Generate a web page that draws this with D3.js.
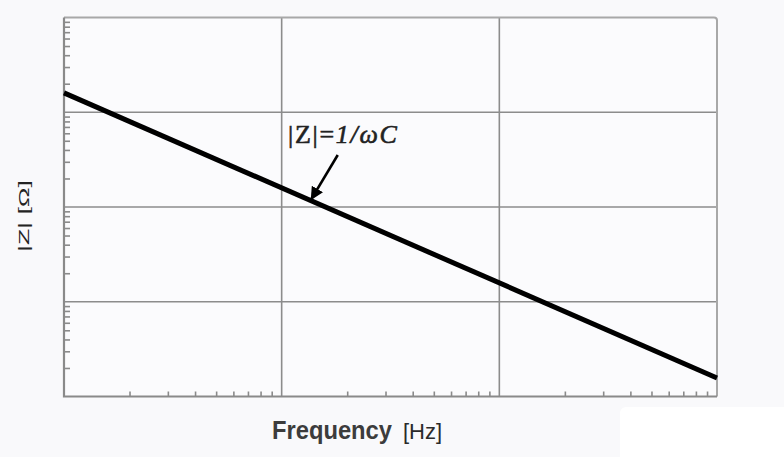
<!DOCTYPE html>
<html>
<head>
<meta charset="UTF-8">
<title>|Z| vs Frequency</title>
<script src="https://d3js.org/d3.v7.min.js"></script>
<style>
  html, body { margin: 0; padding: 0; background: #f9f9fb; }
  svg { display: block; }
</style>
</head>
<body>
<svg width="784" height="457"></svg>
<script>
// data (log-log, slope -1)
var freq = [10, 10000];
var impedance = [160, 0.157];
var xDecades = [10, 100, 1000, 10000];
var yDecades = [0.1, 1, 10, 100, 1000];
var annoUpright = "|Z|=";
var annoItalic = "1/ωC";
var annoLabelAt = [107, 47];     // [freq, |Z|] of label start
var annoTail = [181, 35.4];
var annoTip = [136, 11.8];

var svg = d3.select("svg");
// plot box ("top" is a window property, so use p*)
var pL = 64, pR = 717, pT = 17.5, pB = 396.5;

var x = d3.scaleLog().domain([xDecades[0], xDecades[xDecades.length - 1]]).range([pL, pR]);
var y = d3.scaleLog().domain([yDecades[0], yDecades[yDecades.length - 1]]).range([pB, pT]);

// minor ticks 2..9 in every decade
function minors(decs) {
  var out = [];
  for (var i = 0; i < decs.length - 1; i++)
    for (var k = 2; k <= 9; k++) out.push(decs[i] * k);
  return out;
}

// white patch bottom right
svg.append("rect").attr("x", 620).attr("y", 407).attr("width", 170).attr("height", 60)
  .attr("rx", 6).attr("fill", "#ffffff");

// plot background
svg.append("rect").attr("x", pL).attr("y", pT)
  .attr("width", pR - pL).attr("height", pB - pT)
  .attr("fill", "#fbfbfd");

// grid
svg.append("g").attr("class", "grid")
  .selectAll("line").data(xDecades.slice(1, -1)).enter().append("line")
  .attr("x1", d => x(d)).attr("x2", d => x(d))
  .attr("y1", pT).attr("y2", pB)
  .attr("stroke", "#8c8c8c").attr("stroke-width", 1.6);
svg.append("g").attr("class", "grid")
  .selectAll("line").data(yDecades.slice(1, -1)).enter().append("line")
  .attr("y1", d => y(d)).attr("y2", d => y(d))
  .attr("x1", pL).attr("x2", pR)
  .attr("stroke", "#8c8c8c").attr("stroke-width", 1.6);

// minor ticks (inward)
var xAxis = d3.axisBottom(x).tickValues(minors(xDecades)).tickSize(-5).tickFormat("");
var gx = svg.append("g").attr("transform", "translate(0," + pB + ")").call(xAxis);
gx.select(".domain").remove();
gx.selectAll(".tick line").attr("stroke", "#8a8a8a").attr("stroke-width", 1.6);

var yAxis = d3.axisLeft(y).tickValues(minors(yDecades)).tickSize(-6).tickFormat("");
var gy = svg.append("g").attr("transform", "translate(" + pL + ",0)").call(yAxis);
gy.select(".domain").remove();
gy.selectAll(".tick line").attr("stroke", "#8a8a8a").attr("stroke-width", 1.6);

// frame
svg.append("path")
  .attr("d", "M" + pL + "," + pT + "H" + (pR - 3) + "Q" + pR + "," + pT + " " + pR + "," + (pT + 3) + "V" + pB)
  .attr("fill", "none").attr("stroke", "#a8a8a8").attr("stroke-width", 2);
svg.append("path")
  .attr("d", "M" + pL + "," + pT + "V" + pB + "H" + pR)
  .attr("fill", "none").attr("stroke", "#8a8a8a").attr("stroke-width", 2.2);

// impedance line
var pts = freq.map((f, i) => [f, impedance[i]]);
svg.append("path").datum(pts)
  .attr("d", d3.line().x(d => x(d[0])).y(d => y(d[1])))
  .attr("fill", "none").attr("stroke", "#000").attr("stroke-width", 5)
  .attr("stroke-linecap", "butt");

// annotation
var at = svg.append("text")
  .attr("x", x(annoLabelAt[0])).attr("y", y(annoLabelAt[1]))
  .attr("font-family", "Liberation Serif, Times New Roman, serif")
  .attr("font-size", 26).attr("letter-spacing", 1.7).attr("fill", "#222")
  .attr("stroke", "#222").attr("stroke-width", 0.6);
at.append("tspan").text(annoUpright);
at.append("tspan").attr("font-style", "italic").text(annoItalic);

var defs = svg.append("defs");
defs.append("marker").attr("id", "ah").attr("viewBox", "0 0 10 10")
  .attr("refX", 10).attr("refY", 5).attr("markerWidth", 5).attr("markerHeight", 5)
  .attr("markerUnits", "strokeWidth").attr("orient", "auto")
  .append("path").attr("d", "M0,0L10,5L0,10z").attr("fill", "#000");
svg.append("line")
  .attr("x1", x(annoTail[0])).attr("y1", y(annoTail[1]))
  .attr("x2", x(annoTip[0])).attr("y2", y(annoTip[1]))
  .attr("stroke", "#000").attr("stroke-width", 2.6)
  .attr("marker-end", "url(#ah)");

// axis titles
var xt = svg.append("text").attr("x", 272).attr("y", 439)
  .attr("font-family", "Liberation Sans, Arial, sans-serif").attr("fill", "#3c3c3c");
xt.append("tspan").attr("font-size", 25).attr("font-weight", "bold")
  .attr("textLength", 120).attr("lengthAdjust", "spacingAndGlyphs").text("Frequency");
xt.append("tspan").attr("dx", 11).attr("font-size", 22).attr("fill", "#2a2a2a").text("[Hz]");

svg.append("text")
  .attr("transform", "translate(29,216) rotate(-90)")
  .attr("text-anchor", "middle")
  .attr("font-family", "Liberation Sans, Arial, sans-serif")
  .attr("font-size", 15).attr("fill", "#222")
  .attr("textLength", 72).attr("lengthAdjust", "spacingAndGlyphs")
  .text("|Z| [Ω]");
</script>
</body>
</html>
